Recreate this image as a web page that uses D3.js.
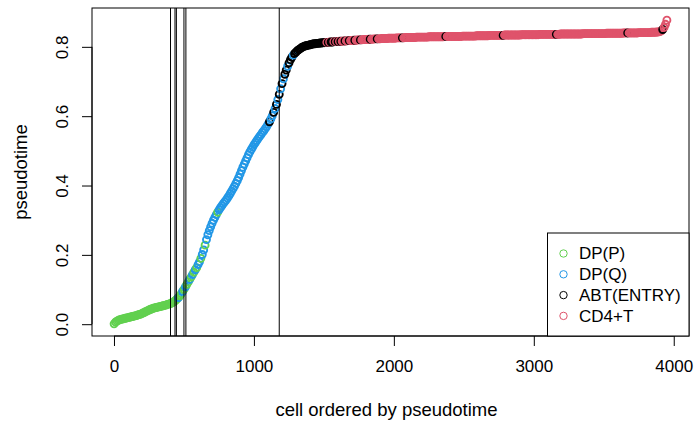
<!DOCTYPE html>
<html><head><meta charset="utf-8">
<script src="https://cdn.jsdelivr.net/npm/d3@7"></script>
<style>body{margin:0;background:#fff}svg{display:block}text{font-family:"Liberation Sans",Arial,sans-serif;}</style>
</head><body>
<script>
const sampleStep = 10;
const pseudotime = [
0.001,0.006,0.009,0.011,0.013,0.014,0.015,0.016,0.017,0.018,
0.019,0.020,0.021,0.022,0.023,0.024,0.025,0.027,0.028,0.029,
0.031,0.033,0.035,0.037,0.039,0.041,0.043,0.044,0.046,0.047,
0.048,0.049,0.050,0.051,0.052,0.053,0.054,0.055,0.057,0.058,
0.059,0.061,0.063,0.066,0.069,0.073,0.077,0.082,0.088,0.095,
0.101,0.108,0.115,0.122,0.129,0.136,0.143,0.150,0.157,0.163,
0.172,0.180,0.190,0.201,0.214,0.228,0.244,0.258,0.270,0.281,
0.291,0.300,0.308,0.316,0.323,0.330,0.336,0.342,0.348,0.353,
0.358,0.364,0.370,0.377,0.384,0.391,0.398,0.406,0.414,0.423,
0.433,0.443,0.453,0.462,0.471,0.480,0.489,0.497,0.504,0.511,
0.518,0.524,0.530,0.536,0.542,0.547,0.553,0.558,0.564,0.570,
0.577,0.584,0.592,0.601,0.611,0.622,0.634,0.648,0.663,0.679,
0.694,0.708,0.721,0.733,0.744,0.754,0.763,0.770,0.776,0.781,
0.785,0.789,0.792,0.795,0.798,0.800,0.802,0.803,0.804,0.805,
0.806,0.807,0.808,0.809,0.809,0.810,0.810,0.811,0.811,0.812,
0.812,0.813,0.813,0.813,0.814,0.814,0.814,0.815,0.815,0.815,
0.815,0.816,0.816,0.816,0.817,0.817,0.817,0.818,0.818,0.818,
0.818,0.819,0.819,0.819,0.820,0.820,0.820,0.820,0.821,0.821,
0.821,0.821,0.822,0.822,0.822,0.822,0.823,0.823,0.823,0.823,
0.823,0.824,0.824,0.824,0.824,0.824,0.825,0.825,0.825,0.825,
0.825,0.825,0.826,0.826,0.826,0.826,0.826,0.826,0.827,0.827,
0.827,0.827,0.827,0.827,0.827,0.827,0.828,0.828,0.828,0.828,
0.828,0.828,0.828,0.828,0.828,0.829,0.829,0.829,0.829,0.829,
0.829,0.829,0.829,0.829,0.829,0.829,0.830,0.830,0.830,0.830,
0.830,0.830,0.830,0.830,0.830,0.830,0.830,0.830,0.830,0.831,
0.831,0.831,0.831,0.831,0.831,0.831,0.831,0.831,0.831,0.832,
0.832,0.832,0.832,0.832,0.832,0.832,0.832,0.832,0.833,0.833,
0.833,0.833,0.833,0.833,0.833,0.833,0.833,0.833,0.833,0.834,
0.834,0.834,0.834,0.834,0.834,0.834,0.834,0.834,0.834,0.834,
0.834,0.835,0.835,0.835,0.835,0.835,0.835,0.835,0.835,0.835,
0.835,0.835,0.835,0.835,0.836,0.836,0.836,0.836,0.836,0.836,
0.836,0.836,0.836,0.836,0.836,0.836,0.836,0.836,0.836,0.837,
0.837,0.837,0.837,0.837,0.837,0.837,0.837,0.837,0.837,0.837,
0.837,0.837,0.837,0.837,0.837,0.838,0.838,0.838,0.838,0.838,
0.838,0.838,0.838,0.838,0.838,0.838,0.838,0.838,0.838,0.838,
0.838,0.838,0.839,0.839,0.839,0.839,0.839,0.839,0.839,0.839,
0.839,0.839,0.839,0.839,0.840,0.840,0.840,0.840,0.840,0.840,
0.840,0.840,0.840,0.840,0.840,0.841,0.841,0.841,0.841,0.841,
0.841,0.841,0.841,0.841,0.842,0.842,0.842,0.842,0.843,0.843,
0.844,0.846,0.850,0.856,0.865,0.877
];
// cell type of each sampled cell: P=DP(P), Q=DP(Q), A=ABT(ENTRY), C=CD4+T
const cellTypeCodes =
"PPPPPPPPPP"+"PPPPPPPPPP"+"PPPPPPPPPP"+"PPPPPPPPPP"+"PPPPPPQPPQ"+
"PQPPQPQPQP"+"QQPQQPQQQQ"+"QQQQPQQQQQ"+"QQQQQQQQQQ"+"QQQQQQQQQQ"+
"QQQQQQQQQQ"+"QAQQAQAQAQ"+"AQAAQAAAQA"+"AAAAAAAAAA"+"AAAAAAAAAA"+
"AACACAACAC"+"ACACCACCAC"+"CCACCCACCC"+"CCCACCCCAC"+"CCCCCCCCCC"+
"CCCCCCACCC"+"CCCCCCCCCC"+"CCCCCCCCCC"+"CCCCCCCACC"+"CCCCCCCCCC"+
"CCCCCCCCCC"+"CCCCCCCCCC"+"CCCCCCCCAC"+"CCCCCCCCCC"+"CCCCCCCCCC"+
"CCCCCCCCCC"+"CCCCCCACCC"+"CCCCCCCCCC"+"CCCCCCCCCC"+"CCCCCCCCCC"+
"CCCCCCCCCC"+"CCCCCCCACC"+"CCCCCCCCCC"+"CCCCCCCCCC"+"CCACCC";
const legendLabels = ["DP(P)","DP(Q)","ABT(ENTRY)","CD4+T"];
const legendCodes = ["P","Q","A","C"];
const typeColors = {P:"#61D04F", Q:"#2297E6", A:"#000000", C:"#DF536B"};
const cutLines = [404, 436, 446, 500, 514, 1181];
const xTicks = [0, 1000, 2000, 3000, 4000];
const yTicks = [0.0, 0.2, 0.4, 0.6, 0.8];
const xTitle = "cell ordered by pseudotime";
const yTitle = "pseudotime";

const W = 694, H = 424;
const plot = {left: 92, right: 689, top: 8, bottom: 336};
const fs = 17, fsTitle = 18.5;

const data = pseudotime.map((v, i) => ({rank: 1 + i * sampleStep, value: v, type: cellTypeCodes[i]}));
const nCells = data[data.length - 1].rank;

const svg = d3.select("body").append("svg").attr("width", W).attr("height", H);
svg.append("rect").attr("width", W).attr("height", H).attr("fill", "#fff");

const xr = [1, nCells], xe = 0.04 * (xr[1] - xr[0]);
const yExt = d3.extent(pseudotime), ye = 0.04 * (yExt[1] - yExt[0]);
const x = d3.scaleLinear().domain([xr[0] - xe, xr[1] + xe]).range([plot.left, plot.right]);
const y = d3.scaleLinear().domain([yExt[0] - ye, yExt[1] + ye]).range([plot.bottom, plot.top]);

// points
svg.append("g").selectAll("circle").data(data).join("circle")
  .attr("cx", d => x(d.rank)).attr("cy", d => y(d.value)).attr("r", 3.5)
  .attr("fill", "none").attr("stroke", d => typeColors[d.type]).attr("stroke-width", 1.9);

// vertical lines
svg.append("g").selectAll("line").data(cutLines).join("line")
  .attr("x1", d => x(d)).attr("x2", d => x(d)).attr("y1", plot.top).attr("y2", plot.bottom)
  .attr("stroke", "#000").attr("stroke-width", 1);

// axes
const xAxis = d3.axisBottom(x).tickValues(xTicks).tickSize(10).tickPadding(14).tickFormat(d3.format("d"));
const gx = svg.append("g").attr("transform", `translate(0,${plot.bottom})`).call(xAxis);
gx.select(".domain").attr("d", `M${x(xTicks[0])},0H${x(xTicks[xTicks.length-1])}`);
const yAxis = d3.axisLeft(y).tickValues(yTicks).tickSize(10).tickFormat(d3.format(".1f"));
const gy = svg.append("g").attr("transform", `translate(${plot.left},0)`).call(yAxis);
gy.select(".domain").attr("d", `M0,${y(yTicks[0])}V${y(yTicks[yTicks.length-1])}`);
[gx, gy].forEach(g => {
  g.selectAll("text").attr("font-size", fs).attr("fill", "#000").attr("font-family", '"Liberation Sans",Arial,sans-serif');
  g.selectAll("line,path").attr("stroke", "#000");
});
gy.selectAll(".tick text").attr("transform", null).attr("x", null).attr("dy", null)
  .attr("text-anchor", "middle")
  .attr("transform", d => `translate(-30,0) rotate(-90)`).attr("y", 0).attr("dy", "0.35em");

// box
svg.append("rect").attr("x", plot.left).attr("y", plot.top)
  .attr("width", plot.right - plot.left).attr("height", plot.bottom - plot.top)
  .attr("fill", "none").attr("stroke", "#000").attr("stroke-width", 1);

// titles
svg.append("text").attr("x", (plot.left + plot.right) / 2 - 4).attr("y", 410).attr("dy", "0.35em")
  .attr("text-anchor", "middle").attr("font-size", fsTitle).text(xTitle);
svg.append("text").attr("transform", `translate(21,${(plot.top + plot.bottom) / 2}) rotate(-90)`)
  .attr("dy", "0.35em").attr("text-anchor", "middle").attr("font-size", fsTitle).text(yTitle);

// legend
const lg = svg.append("g");
lg.append("rect").attr("x", 547.5).attr("y", 233).attr("width", plot.right - 547.5).attr("height", plot.bottom - 233)
  .attr("fill", "#fff").attr("stroke", "#000").attr("stroke-width", 1);
legendLabels.forEach((lab, i) => {
  const yy = 253.5 + i * 20.8;
  lg.append("circle").attr("cx", 563.5).attr("cy", yy).attr("r", 3.7)
    .attr("fill", "none").attr("stroke", typeColors[legendCodes[i]]).attr("stroke-width", 1);
  lg.append("text").attr("x", 579).attr("y", yy).attr("dy", "0.35em").attr("font-size", fs).text(lab);
});
</script>
</body></html>
